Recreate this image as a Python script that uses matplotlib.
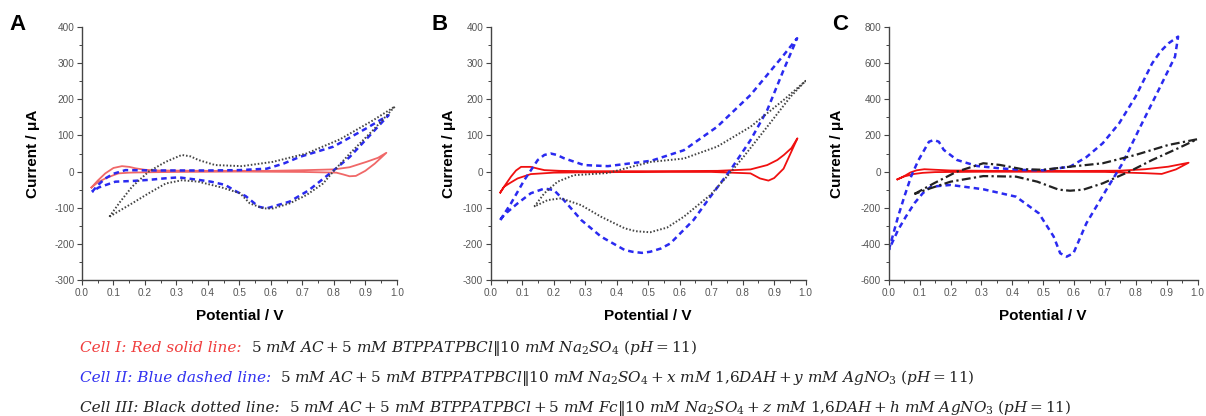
import matplotlib.pyplot as plt
from matplotlib.ticker import MultipleLocator

plt.rcParams['font.family'] = ['Liberation Sans', 'DejaVu Sans']
plt.rcParams['mathtext.fontset'] = 'dejavuserif'
plt.rcParams['axes.unicode_minus'] = False

# ---- data (potential V, current uA); each CV = forward branch + reverse branch ----
# panel A
a_red_v = [0.03, 0.05, 0.074, 0.1, 0.127, 0.15, 0.17, 0.2, 0.233, 0.4, 0.6, 0.713, 0.8,
           0.85, 0.904, 0.94, 0.967, 0.93, 0.9, 0.87, 0.85, 0.83, 0.808, 0.7, 0.5,
           0.3, 0.2, 0.15, 0.116, 0.1, 0.074, 0.05, 0.03]
a_red_i = [-44, -25, -5, 10, 15, 13, 9, 5, 3, 2, 2, 4, 6,
           12, 27, 38, 52, 22, 2, -12, -13, -8, -3, -1, 0,
           -1, -2, -3, -5, -10, -19, -30, -44]
a_blue_v = [0.032, 0.05, 0.074, 0.1, 0.138, 0.25, 0.4, 0.5, 0.587, 0.64, 0.693, 0.799,
            0.9, 0.974, 0.925, 0.85, 0.795, 0.72, 0.66, 0.586, 0.56, 0.544, 0.52,
            0.49, 0.455, 0.41, 0.37, 0.307, 0.26, 0.212, 0.16, 0.106, 0.053, 0.032]
a_blue_i = [-56, -38, -19, -6, 4, 3, 3, 4, 8, 22, 41, 69,
            118, 156, 110, 40, 0, -52, -83, -102, -97, -85, -68,
            -55, -37, -28, -23, -16, -19, -23, -26, -28, -44, -56]
a_blk_v = [0.087, 0.12, 0.159, 0.212, 0.266, 0.317, 0.345, 0.37, 0.423, 0.508, 0.607,
           0.713, 0.819, 0.925, 0.994, 0.925, 0.851, 0.798, 0.766, 0.713, 0.66, 0.607,
           0.576, 0.533, 0.502, 0.444, 0.37, 0.317, 0.266, 0.212, 0.159, 0.12, 0.087]
a_blk_i = [-125, -85, -42, 0, 27, 46, 42, 32, 18, 15, 27,
           50, 89, 142, 180, 115, 50, 0, -33, -65, -88, -102,
           -102, -88, -60, -44, -28, -24, -33, -60, -88, -108, -125]

# panel B
b_red_v = [0.03, 0.045, 0.064, 0.08, 0.096, 0.127, 0.15, 0.17, 0.22, 0.3, 0.5, 0.72,
           0.825, 0.878, 0.91, 0.931, 0.955, 0.974, 0.93, 0.9, 0.882, 0.855, 0.825,
           0.7, 0.5, 0.3, 0.2, 0.127, 0.085, 0.06, 0.042, 0.03]
b_red_i = [-58, -38, -14, 3, 13, 13, 8, 4, 2, 1, 1, 2,
           6, 18, 32, 46, 65, 92, 8, -18, -25, -19, -5,
           -1, -1, -2, -3, -7, -19, -32, -42, -58]
b_blue_v = [0.03, 0.064, 0.106, 0.149, 0.17, 0.19, 0.21, 0.232, 0.296, 0.372, 0.446, 0.51,
            0.613, 0.719, 0.825, 0.93, 0.973, 0.93, 0.878, 0.825, 0.761, 0.697, 0.644,
            0.57, 0.54, 0.506, 0.48, 0.45, 0.425, 0.35, 0.287, 0.232, 0.2, 0.17, 0.127,
            0.085, 0.042, 0.03]
b_blue_i = [-134, -88, -24, 32, 46, 50, 46, 37, 18, 15, 23, 30,
            59, 124, 212, 322, 369, 281, 170, 87, 4, -70, -134,
            -199, -213, -222, -225, -222, -217, -180, -134, -79, -51, -47, -60,
            -88, -120, -134]
b_blk_v = [0.138, 0.17, 0.212, 0.264, 0.372, 0.446, 0.51, 0.613, 0.719, 0.825, 0.93,
           1.0, 0.952, 0.878, 0.803, 0.75, 0.697, 0.613, 0.56, 0.506, 0.46, 0.425,
           0.35, 0.287, 0.223, 0.18, 0.138]
b_blk_i = [-97, -60, -28, -10, -4, 13, 27, 36, 69, 124, 198,
           251, 207, 124, 41, -14, -65, -125, -155, -168, -165, -157,
           -125, -93, -74, -79, -97]

# panel C
c_red_v = [0.028, 0.05, 0.07, 0.09, 0.115, 0.15, 0.2, 0.4, 0.6, 0.75, 0.831, 0.905, 0.971,
           0.93, 0.884, 0.831, 0.7, 0.5, 0.3, 0.15, 0.11, 0.083, 0.05, 0.028]
c_red_i = [-43, -25, -5, 7, 13, 10, 6, 3, 3, 5, 13, 27, 49,
           12, -13, -9, -2, -1, -1, -3, -7, -13, -27, -43]
c_blue_v = [0.0, 0.03, 0.05, 0.072, 0.095, 0.115, 0.13, 0.146, 0.162, 0.178, 0.221,
            0.285, 0.359, 0.433, 0.5, 0.587, 0.64, 0.693, 0.746, 0.799, 0.853, 0.88,
            0.906, 0.937, 0.927, 0.874, 0.82, 0.757, 0.704, 0.64, 0.598, 0.576, 0.555,
            0.534, 0.486, 0.412, 0.306, 0.2, 0.136, 0.11, 0.083, 0.055, 0.03, 0.0]
c_blue_i = [-434, -249, -140, -28, 60, 120, 165, 175, 165, 120, 64,
            31, 18, 9, 7, 27, 80, 157, 267, 414, 599, 665,
            710, 747, 636, 452, 267, 46, -102, -286, -452, -471, -452,
            -360, -231, -139, -98, -74, -84, -120, -175, -250, -323, -434]
c_blk_v = [0.083, 0.146, 0.221, 0.306, 0.359, 0.433, 0.5, 0.587, 0.693, 0.799, 0.905,
           0.999, 0.937, 0.853, 0.779, 0.693, 0.63, 0.587, 0.55, 0.481, 0.412, 0.306,
           0.2, 0.125, 0.083]
c_blk_i = [-124, -65, 0, 46, 37, 13, 10, 27, 46, 92, 147,
           179, 129, 64, 0, -65, -100, -106, -100, -56, -28, -25,
           -56, -98, -124]

fig = plt.figure(figsize=(12.06, 4.16), dpi=100)


def setup(ax, ylim, major, letter, ylab_x, letter_x):
    ax.set_xlim(0, 1.0)
    ax.set_ylim(*ylim)
    ax.xaxis.set_major_locator(MultipleLocator(0.1))
    ax.xaxis.set_minor_locator(MultipleLocator(0.05))
    ax.yaxis.set_major_locator(MultipleLocator(major))
    ax.yaxis.set_minor_locator(MultipleLocator(major / 2))
    ax.spines['top'].set_visible(False)
    ax.spines['right'].set_visible(False)
    for s in ['left', 'bottom']:
        ax.spines[s].set_color('#444444')
        ax.spines[s].set_linewidth(1.0)
    ax.tick_params(which='major', direction='out', length=3.5, width=0.8,
                   color='#444444', labelsize=7.2, labelcolor='#555555', pad=2)
    ax.tick_params(which='minor', direction='out', length=2, width=0.7, color='#444444')
    ax.set_xticklabels([f'{t:.1f}' for t in ax.get_xticks()])
    ax.set_xlabel('Potential / V', fontsize=11, fontweight='bold')
    ax.set_ylabel('Current / μA', fontsize=11, fontweight='bold')
    ax.xaxis.set_label_coords(0.5, -0.115)
    ax.yaxis.set_label_coords(ylab_x, 0.5)
    ax.text(letter_x, 1.01, letter, transform=ax.transAxes, fontsize=16,
            fontweight='bold', ha='left', va='center')


axA = fig.add_axes([0.068, 0.327, 0.261, 0.608])
axB = fig.add_axes([0.407, 0.327, 0.261, 0.608])
axC = fig.add_axes([0.737, 0.327, 0.256, 0.608])

dash = (0, (2.2, 1.6))
dot = (0, (0.8, 1.0))

axA.plot(a_red_v, a_red_i, color='#f06868', lw=1.3)
axA.plot(a_blue_v, a_blue_i, color='#2a2af0', lw=1.8, ls=dash)
axA.plot(a_blk_v, a_blk_i, color='#444444', lw=1.4, ls=dot)
setup(axA, (-300, 400), 100, 'A', -0.134, -0.229)

axB.plot(b_red_v, b_red_i, color='#f01010', lw=1.3)
axB.plot(b_blue_v, b_blue_i, color='#2a2af0', lw=1.8, ls=dash)
axB.plot(b_blk_v, b_blk_i, color='#444444', lw=1.4, ls=dot)
setup(axB, (-300, 400), 100, 'B', -0.111, -0.188)

axC.plot(c_red_v, c_red_i, color='#f01010', lw=1.3)
axC.plot(c_blue_v, c_blue_i, color='#2a2af0', lw=1.8, ls=dash)
axC.plot(c_blk_v, c_blk_i, color='#222222', lw=1.6, ls=(0, (4, 1.5, 1, 1.5)))
setup(axC, (-600, 800), 200, 'C', -0.146, -0.183)

# ---- caption lines ----
cap_heads = ['Cell I: Red solid line:',
             'Cell II: Blue dashed line:',
             'Cell III: Black dotted line:']
cap_colors = ['#f03c3c', '#3030f0', '#222222']
cap_rest = [
    r'$5\ mM\ AC + 5\ mM\ BTPPATPBCl\|10\ mM\ Na_2SO_4\ (pH = 11)$',
    r'$5\ mM\ AC + 5\ mM\ BTPPATPBCl\|10\ mM\ Na_2SO_4 + x\ mM\ 1{,}6DAH + y\ mM\ AgNO_3\ (pH = 11)$',
    r'$5\ mM\ AC + 5\ mM\ BTPPATPBCl + 5\ mM\ Fc\|10\ mM\ Na_2SO_4 + z\ mM\ 1{,}6DAH + h\ mM\ AgNO_3\ (pH = 11)$',
]
cap_y = [1 - 348 / 416, 1 - 378 / 416, 1 - 408 / 416]
x0 = 80 / 1206

heads, rests = [], []
for head, col, rest, y in zip(cap_heads, cap_colors, cap_rest, cap_y):
    t1 = fig.text(x0, y, head, color=col, fontsize=11, family='DejaVu Serif',
                  style='italic', va='center', ha='left')
    t2 = fig.text(0, 0, rest, fontsize=11, color='#222222', va='center', ha='left')
    heads.append(t1)
    rests.append(t2)

# scale caption font so that the longest line spans like in the reference
r = fig.canvas.get_renderer()
gap = 0.6
w3 = heads[2].get_window_extent(r).width + rests[2].get_window_extent(r).width
fs = 11 * 992 / (w3 + gap * 11 * 100 / 72)
for t1, t2, y in zip(heads, rests, cap_y):
    t1.set_fontsize(fs)
    t2.set_fontsize(fs)
    wh = t1.get_window_extent(r).width + gap * fs * 100 / 72
    t2.set_position((x0 + wh / 1206, y))

fig.savefig('out.png', dpi=100)
